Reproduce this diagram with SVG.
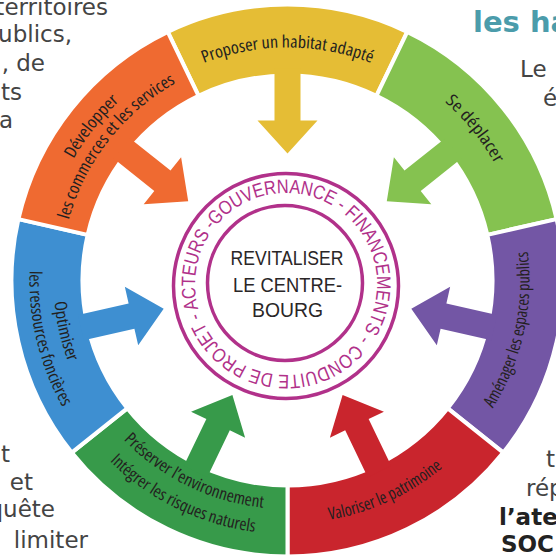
<svg xmlns="http://www.w3.org/2000/svg" width="556" height="560" viewBox="0 0 556 560">
<style>
  .seg { stroke: #ffffff; stroke-width: 4; stroke-linejoin: miter; }
  .lbl { font-family: "Open Sans", "Liberation Sans", sans-serif; font-stretch: condensed; font-size: 17px; fill: #231f20; text-anchor: middle; }
  .ringtxt { font-family: "Liberation Sans", "Arial", sans-serif; font-size: 19.5px; fill: #b1318a; }
  .ringline { fill: none; stroke: #b1318a; stroke-width: 3.5; }
  .page { font-family: "DejaVu Sans", sans-serif; font-size: 23px; fill: #444444; }
  .pageb { font-family: "DejaVu Sans", sans-serif; font-size: 23px; font-weight: bold; fill: #222222; }
  .head { font-family: "DejaVu Sans", sans-serif; font-size: 29px; font-weight: bold; fill: #4b9cab; }
  .center { font-family: "Liberation Sans", sans-serif; font-size: 21px; fill: #2a2627; text-anchor: middle; }
</style>
<defs>
  <polygon id="arrow" points="127,0 160,-30 160,-13 212,-13 212,13 160,13 160,30"/>
  <path id="p-yellow" d="M171,78.72 A233,233 0 0 1 404,78.72"/>
  <path id="p-green" d="M372.79,58.31 A238,238 0 0 1 522.57,243.27"/>
  <path id="p-orange1" d="M44.01,245.41 A246,246 0 0 1 196.14,52.09"/>
  <path id="p-orange2" d="M62.71,248.91 A227,227 0 0 1 202.46,70.03"/>
  <path id="p-purple" d="M465.92,443.99 A242,242 0 0 0 518.3,207.73"/>
  <path id="p-red" d="M265.48,522.5 A243,243 0 0 0 486.06,420.57"/>
  <path id="p-dkgreen1" d="M98.06,408.27 A228.5,228.5 0 0 0 303.44,508.44"/>
  <path id="p-dkgreen2" d="M77.34,422.25 A253.5,253.5 0 0 0 305.18,533.38"/>
  <path id="p-blue1" d="M63.96,211.3 A234,234 0 0 0 115.81,439.49"/>
  <path id="p-blue2" d="M40,207.66 A258,258 0 0 0 100.66,458.42"/>
  <path id="p-ring" d="M354.68,343.7 A91,91 0 1 1 217.32,224.3 A91,91 0 1 1 354.68,343.7"/>
</defs>

<g id="page-text">
  <text class="page" x="108" y="15" text-anchor="end">territoires</text>
  <text class="page" x="72" y="42" text-anchor="end">ublics,</text>
  <text class="page" x="45" y="71" text-anchor="end">, de</text>
  <text class="page" x="22" y="100" text-anchor="end">ts</text>
  <text class="page" x="13" y="128" text-anchor="end">a</text>
  <text class="page" x="10" y="462" text-anchor="end">t</text>
  <text class="page" x="33" y="490" text-anchor="end">et</text>
  <text class="page" x="55" y="517" text-anchor="end">quête</text>
  <text class="page" x="88" y="548" text-anchor="end">limiter</text>
  <text class="head" x="473" y="32">les ha</text>
  <text class="page" x="520" y="77">Le</text>
  <text class="page" x="543" y="106">é</text>
  <text class="page" x="546" y="467">t</text>
  <text class="page" x="526" y="496">rép</text>
  <text class="pageb" x="499" y="525">l’atel</text>
  <text class="pageb" x="501" y="552">SOC</text>
</g>

<g id="node-habitat">
  <path class="seg" fill="#e5bd35" d="M167.75,31.83 A276,276 0 0 1 407.25,31.83 L376.45,95.8 A205,205 0 0 0 198.55,95.8 Z"/>
  <text class="lbl"><textPath href="#p-yellow" startOffset="50%" textLength="171" lengthAdjust="spacingAndGlyphs">Proposer un habitat adapté</textPath></text>
</g>
<g id="node-deplacer">
  <path class="seg" fill="#85c250" d="M407.25,31.83 A276,276 0 0 1 556.58,219.08 L487.36,234.88 A205,205 0 0 0 376.45,95.8 Z"/>
  <text class="lbl"><textPath href="#p-green" startOffset="50%" textLength="80" lengthAdjust="spacingAndGlyphs">Se déplacer</textPath></text>
</g>
<g id="node-espaces">
  <path class="seg" fill="#7356a5" d="M556.58,219.08 A276,276 0 0 1 503.29,452.58 L447.78,408.32 A205,205 0 0 0 487.36,234.88 Z"/>
  <text class="lbl"><textPath href="#p-purple" startOffset="50%" textLength="164" lengthAdjust="spacingAndGlyphs">Aménager les espaces publics</textPath></text>
</g>
<g id="node-patrimoine">
  <path class="seg" fill="#c9252d" d="M503.29,452.58 A276,276 0 0 1 287.5,556.5 L287.5,485.5 A205,205 0 0 0 447.78,408.32 Z"/>
  <text class="lbl"><textPath href="#p-red" startOffset="50%" textLength="126" lengthAdjust="spacingAndGlyphs">Valoriser le patrimoine</textPath></text>
</g>
<g id="node-environnement">
  <path class="seg" fill="#379a4a" d="M287.5,556.5 A276,276 0 0 1 71.71,452.58 L127.22,408.32 A205,205 0 0 0 287.5,485.5 Z"/>
  <text class="lbl"><textPath href="#p-dkgreen1" startOffset="50%" textLength="158" lengthAdjust="spacingAndGlyphs">Préserver l’environnement</textPath></text>
  <text class="lbl"><textPath href="#p-dkgreen2" startOffset="50%" textLength="164" lengthAdjust="spacingAndGlyphs">Intégrer les risques naturels</textPath></text>
</g>
<g id="node-foncier">
  <path class="seg" fill="#3e8fd1" d="M71.71,452.58 A276,276 0 0 1 18.42,219.08 L87.64,234.88 A205,205 0 0 0 127.22,408.32 Z"/>
  <text class="lbl"><textPath href="#p-blue1" startOffset="50%" textLength="62" lengthAdjust="spacingAndGlyphs">Optimiser</textPath></text>
  <text class="lbl"><textPath href="#p-blue2" startOffset="50%" textLength="142" lengthAdjust="spacingAndGlyphs">les ressources foncières</textPath></text>
</g>
<g id="node-commerces">
  <path class="seg" fill="#ef6a31" d="M18.42,219.08 A276,276 0 0 1 167.75,31.83 L198.55,95.8 A205,205 0 0 0 87.64,234.88 Z"/>
  <text class="lbl"><textPath href="#p-orange1" startOffset="50%" textLength="74" lengthAdjust="spacingAndGlyphs">Développer</textPath></text>
  <text class="lbl"><textPath href="#p-orange2" startOffset="50%" textLength="178" lengthAdjust="spacingAndGlyphs">les commerces et les services</textPath></text>
</g>

<g id="connectors">
  <use href="#arrow" fill="#e5bd35" transform="translate(287.5,280.5) rotate(270)"/>
  <use href="#arrow" fill="#85c250" transform="translate(287.5,280.5) rotate(321.43)"/>
  <use href="#arrow" fill="#7356a5" transform="translate(287.5,280.5) rotate(12.86)"/>
  <use href="#arrow" fill="#c9252d" transform="translate(287.5,280.5) rotate(64.29)"/>
  <use href="#arrow" fill="#379a4a" transform="translate(287.5,280.5) rotate(115.71)"/>
  <use href="#arrow" fill="#3e8fd1" transform="translate(287.5,280.5) rotate(167.14)"/>
  <use href="#arrow" fill="#ef6a31" transform="translate(287.5,280.5) rotate(218.57)"/>
</g>

<g id="node-centre">
  <circle class="ringline" cx="286" cy="286" r="112.5"/>
  <circle class="ringline" cx="285" cy="283" r="77.5"/>
  <text class="ringtxt"><textPath href="#p-ring" textLength="565" lengthAdjust="spacingAndGlyphs">CONDUITE DE PROJET - ACTEURS -GOUVERNANCE - FINANCEMENTS -</textPath></text>
  <text class="center" x="287" y="265" textLength="113" lengthAdjust="spacingAndGlyphs">REVITALISER</text>
  <text class="center" x="287.5" y="292" textLength="109" lengthAdjust="spacingAndGlyphs">LE CENTRE-</text>
  <text class="center" x="287.5" y="317" textLength="71" lengthAdjust="spacingAndGlyphs">BOURG</text>
</g>
</svg>
